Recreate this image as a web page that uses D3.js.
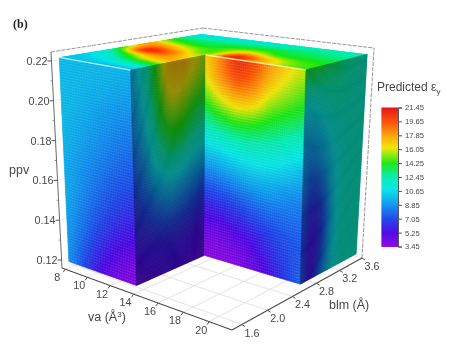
<!DOCTYPE html>
<html>
<head>
<meta charset="utf-8">
<script src="https://d3js.org/d3.v7.min.js"></script>
<style>
  body { margin: 0; background: #fff; }
  svg { display: block; filter: blur(0.7px); font-family: "Liberation Sans", Arial, sans-serif; }
  text { fill: #484848; }
</style>
</head>
<body>
<div id="chart"></div>
<script>
// tick labels
var vaTicks = [8, 10, 12, 14, 16, 18, 20];
var blmTicks = [1.6, 2.0, 2.4, 2.8, 3.2, 3.6];
var ppvTicks = [0.12, 0.14, 0.16, 0.18, 0.20, 0.22];
var legendTicks = [21.45, 19.65, 17.85, 16.05, 14.25, 12.45, 10.65, 8.85, 7.05, 5.25, 3.45];

// colour bar, value -> colour
var colorValues = [3.45, 5.25, 7.05, 8.85, 10.95, 12.45, 14.25, 16.3, 17.85, 19.65, 21.45];
var colorHexes = ["#9000e0", "#4a00e6", "#1a40ea", "#0a90f0", "#00e6e8", "#00ecb0", "#14e810", "#f2e600", "#ffa000", "#ff4a00", "#e01010"];

// extent of the solid inside the frame, the cut runs at the middle values
var solidVa = [7.85, 13.8, 21.45];
var solidBlm = [1.53, 2.58, 3.55];
var solidPpv = [0.1185, 0.2215];

var leftFace = [
  [9.9, 9.9, 9.8, 9.8, 9.7],
  [9.9, 9.8, 9.7, 9.5, 9.3],
  [9.9, 9.7, 9.4, 9.1, 8.9],
  [9.8, 9.5, 9.1, 8.7, 8.4],
  [9.7, 9.3, 8.8, 8.3, 7.9],
  [9.6, 9.0, 8.4, 7.8, 7.4],
  [9.5, 8.8, 8.0, 7.3, 6.8],
  [9.4, 8.5, 7.5, 6.7, 6.1],
  [9.2, 8.1, 6.9, 5.9, 5.3],
  [9.0, 7.6, 6.1, 5.0, 4.4],
  [8.8, 7.1, 5.3, 4.2, 3.8]
];
var cutFaceBlm = [
  [9.7, 11.8, 14.5, 17.0, 17.3, 16.5, 15.6],
  [9.4, 11.5, 14.2, 16.5, 16.6, 15.8, 15.0],
  [9.0, 11.0, 13.6, 15.6, 15.6, 14.7, 14.1],
  [8.6, 10.4, 12.9, 14.5, 14.4, 13.5, 12.9],
  [8.1, 9.7, 12.0, 13.3, 13.1, 12.2, 11.6],
  [7.5, 8.9, 10.8, 11.8, 11.4, 10.5, 9.8],
  [7.0, 7.9, 9.3, 10.0, 9.6, 8.8, 8.1],
  [6.4, 7.0, 7.8, 8.3, 7.9, 7.2, 6.7],
  [5.9, 6.2, 6.5, 6.7, 6.5, 6.1, 5.8],
  [5.3, 5.6, 5.7, 5.8, 5.7, 5.4, 5.2],
  [4.8, 5.1, 5.4, 5.5, 5.3, 5.0, 4.8]
];
var cutFaceVa = [
  [16.8, 18.6, 20.5, 19.8, 18.0, 16.7, 15.8],
  [16.4, 18.1, 19.5, 18.8, 17.0, 15.8, 15.0],
  [15.0, 16.3, 17.2, 16.8, 15.4, 14.6, 14.0],
  [13.2, 14.0, 14.6, 14.4, 13.7, 13.1, 12.6],
  [11.5, 11.9, 12.3, 12.4, 12.1, 11.6, 11.1],
  [9.8, 10.1, 10.5, 10.8, 10.7, 10.3, 9.8],
  [8.2, 8.4, 8.8, 9.2, 9.3, 9.0, 8.7],
  [6.6, 6.8, 7.2, 7.7, 8.0, 8.1, 8.1],
  [5.3, 5.4, 5.8, 6.3, 6.9, 7.4, 7.6],
  [4.3, 4.3, 4.6, 5.1, 6.0, 6.9, 7.5],
  [3.7, 3.7, 3.9, 4.4, 5.3, 6.6, 7.7]
];
var rightFace = [
  [14.0, 13.8, 13.5, 13.2, 12.8, 12.4, 12.0],
  [12.5, 12.4, 12.5, 12.6, 12.4, 12.1, 11.9],
  [10.8, 10.9, 11.5, 12.0, 12.0, 11.9, 11.9],
  [9.8, 9.9, 10.6, 11.5, 11.8, 11.9, 11.9],
  [9.2, 9.1, 9.8, 11.0, 11.6, 11.9, 11.9],
  [8.8, 8.1, 8.9, 10.5, 11.6, 11.9, 11.9],
  [8.3, 7.1, 7.8, 10.1, 11.6, 11.9, 11.9],
  [7.6, 6.3, 7.0, 9.8, 11.6, 11.9, 11.9],
  [7.3, 5.8, 6.8, 9.8, 11.6, 11.9, 11.9],
  [7.3, 5.6, 7.2, 10.1, 11.6, 11.9, 11.9],
  [7.6, 5.8, 8.0, 10.4, 11.6, 11.9, 11.9]
];
// top face, rows go from the lowest blm to the highest, columns along va
// (the part of this grid that falls in the cut is never seen)
var topFace = [
  [10.0, 10.0, 9.9, 9.9, 11.0, 11.0, 11.0, 11.0],
  [10.4, 11.2, 12.4, 13.2, 14.0, 13.5, 12.8, 12.0],
  [11.2, 14.0, 16.6, 17.2, 17.0, 15.5, 14.2, 13.5],
  [14.5, 20.2, 19.0, 16.5, 19.0, 16.5, 15.0, 14.2],
  [17.8, 18.0, 16.3, 15.0, 20.5, 18.0, 15.6, 14.5],
  [15.5, 14.5, 14.0, 14.8, 16.0, 14.6, 14.2, 14.0],
  [12.5, 12.6, 12.8, 13.0, 13.3, 13.2, 13.0, 12.8],
  [11.0, 11.0, 11.0, 11.2, 11.8, 12.2, 12.3, 12.0]
];

var width = 465, height = 356;

var svg = d3.select("#chart").append("svg").attr("width", width).attr("height", height);

// frame of the 3d box on the page
var floorA = [62, 268], floorB = [232, 330], floorC = [362, 258], floorD = [197, 216];
var topA = [51, 52], topB = [231, 84], topC = [374, 48], topD = [203, 28];

var vaScale = d3.scaleLinear().domain([7.7, 21.7]).range([0, 1]);
var blmScale = d3.scaleLinear().domain([1.45, 3.6]).range([0, 1]);
var ppvScale = d3.scaleLinear().domain([0.116, 0.2245]).range([0, 1]);

var colorScale = d3.scaleLinear().domain(colorValues).range(colorHexes).clamp(true);

// foreshortening along an edge
function persp(t, r) {
  return t * r / (1 + (r - 1) * t);
}
function mix(a, b, t) {
  return [a[0] + (b[0] - a[0]) * t, a[1] + (b[1] - a[1]) * t];
}
function project(va, blm, ppv) {
  var u = persp(vaScale(va), 0.89),
    v = persp(blmScale(blm), 1.1),
    w = ppvScale(ppv);
  var floor = mix(mix(floorA, floorB, u), mix(floorD, floorC, u), v);
  var roof = mix(mix(topA, topB, u), mix(topD, topC, u), v);
  return mix(floor, roof, w);
}

var line = d3.line();

function segment(parent, a, b, color, w, dash) {
  parent.append("path")
    .attr("d", line([a, b]))
    .attr("fill", "none")
    .attr("stroke", color)
    .attr("stroke-width", w)
    .attr("stroke-dasharray", dash || null);
}

// smooth value inside a grid, passes through the values that were read
function catmull(arr, t) {
  var n = arr.length - 1,
    i = Math.min(Math.floor(t * n), n - 1),
    f = t * n - i,
    p0 = arr[Math.max(i - 1, 0)],
    p1 = arr[i],
    p2 = arr[i + 1],
    p3 = arr[Math.min(i + 2, n)];
  return 0.5 * (2 * p1 + (p2 - p0) * f + (2 * p0 - 5 * p1 + 4 * p2 - p3) * f * f + (3 * p1 - p0 - 3 * p2 + p3) * f * f * f);
}
function gridValue(grid, s, t) {
  return catmull(grid.map(function (row) { return catmull(row, s); }), t);
}

// draw one face as small quads, pointAt takes s (across) and t (along the rows)
function drawFace(parent, grid, pointAt, shade, nx, ny) {
  var cells = d3.cross(d3.range(nx), d3.range(ny));
  parent.selectAll("path")
    .data(cells)
    .join("path")
    .attr("d", function (d) {
      var s0 = d[0] / nx, s1 = (d[0] + 1) / nx, t0 = d[1] / ny, t1 = (d[1] + 1) / ny;
      return line([pointAt(s0, t0), pointAt(s1, t0), pointAt(s1, t1), pointAt(s0, t1)]) + "Z";
    })
    .each(function (d) {
      var c = d3.rgb(colorScale(gridValue(grid, (d[0] + 0.5) / nx, (d[1] + 0.5) / ny)));
      var col = d3.rgb(c.r * shade, c.g * shade, c.b * shade).formatHex();
      d3.select(this).attr("fill", col).attr("stroke", col).attr("stroke-width", 0.6);
    });
}

// walls and floor grid, behind the solid
var grid = svg.append("g");
vaTicks.forEach(function (v) {
  segment(grid, project(v, 1.45, 0.116), project(v, 3.6, 0.116), "#dcdcdc", 0.8);
  segment(grid, project(v, 3.6, 0.116), project(v, 3.6, 0.2245), "#e4e4e4", 0.7);
});
blmTicks.forEach(function (b) {
  segment(grid, project(7.7, b, 0.116), project(21.7, b, 0.116), "#dcdcdc", 0.8);
  segment(grid, project(7.7, b, 0.116), project(7.7, b, 0.2245), "#e4e4e4", 0.7);
});
ppvTicks.forEach(function (p) {
  segment(grid, project(7.7, 1.45, p), project(7.7, 3.6, p), "#e4e4e4", 0.7);
  segment(grid, project(7.7, 3.6, p), project(21.7, 3.6, p), "#e4e4e4", 0.7);
});

// frame lines
var frame = svg.append("g");
segment(frame, topA, topD, "#8a8a8a", 0.9, "4,1.2");
segment(frame, topD, topC, "#8a8a8a", 0.9, "4,1.2");
segment(frame, floorC, topC, "#8a8a8a", 0.9, "4,1.2");
segment(frame, floorA, topA, "#6a6a6a", 1);
segment(frame, floorA, floorB, "#4a4a4a", 1.1);
segment(frame, floorB, floorC, "#4a4a4a", 1.1);

// the solid
var va0 = solidVa[0], vaCut = solidVa[1], va1 = solidVa[2];
var blm0 = solidBlm[0], blmCut = solidBlm[1], blm1 = solidBlm[2];
var ppv0 = solidPpv[0], ppv1 = solidPpv[1];
var ppvDown = d3.scaleLinear().domain([0, 1]).range([ppv1, ppv0]);

var clipTop = [
  project(va0, blm0, ppv1), project(vaCut, blm0, ppv1), project(vaCut, blmCut, ppv1),
  project(va1, blmCut, ppv1), project(va1, blm1, ppv1), project(va0, blm1, ppv1)
];
svg.append("clipPath").attr("id", "top-clip").append("path").attr("d", line(clipTop) + "Z");

var topG = svg.append("g").attr("clip-path", "url(#top-clip)");
var topVa = d3.scaleLinear().domain([0, 1]).range([va0, va1]);
var topBlm = d3.scaleLinear().domain([0, 1]).range([blm0, blm1]);
drawFace(topG, topFace, function (s, t) {
  return project(topVa(s), topBlm(t), ppv1);
}, 1, 80, 60);

var leftVa = d3.scaleLinear().domain([0, 1]).range([va0, vaCut]);
drawFace(svg.append("g"), leftFace, function (s, t) {
  return project(leftVa(s), blm0, ppvDown(t));
}, 0.97, 40, 70);

var cutBlm = d3.scaleLinear().domain([0, 1]).range([blm0, blmCut]);
drawFace(svg.append("g"), cutFaceBlm, function (s, t) {
  return project(vaCut, cutBlm(s), ppvDown(t));
}, 0.6, 70, 80);

var cutVa = d3.scaleLinear().domain([0, 1]).range([vaCut, va1]);
drawFace(svg.append("g"), cutFaceVa, function (s, t) {
  return project(cutVa(s), blmCut, ppvDown(t));
}, 0.98, 50, 70);

var rightBlm = d3.scaleLinear().domain([0, 1]).range([blmCut, blm1]);
drawFace(svg.append("g"), rightFace, function (s, t) {
  return project(va1, rightBlm(s), ppvDown(t));
}, 0.6, 60, 80);

// fine rows of points show up as pale stripes on the lit faces
var stripes = svg.append("g");
d3.range(0, 76).forEach(function (i) {
  var p = ppv0 + (ppv1 - ppv0) * i / 75;
  segment(stripes, project(va0, blm0, p), project(vaCut, blm0, p), "rgba(255,255,255,0.10)", 0.9);
  segment(stripes, project(vaCut, blmCut, p), project(va1, blmCut, p), "rgba(255,255,255,0.10)", 0.9);
});

// bright top edges
segment(stripes, project(va0, blm0, ppv1), project(vaCut, blm0, ppv1), "rgba(200,255,255,0.85)", 1.3);
segment(stripes, project(vaCut, blmCut, ppv1), project(va1, blmCut, ppv1), "rgba(255,255,190,0.8)", 1.3);

// axes
var axes = svg.append("g").attr("font-size", 10.8);

ppvTicks.forEach(function (p) {
  var a = project(7.7, 1.45, p);
  segment(axes, a, [a[0] - 4, a[1]], "#555", 1);
  axes.append("text").attr("x", a[0] - 4).attr("y", a[1] + 4).attr("text-anchor", "end").text(p.toFixed(2));
});
d3.range(0.13, 0.22, 0.02).forEach(function (p) {
  var a = project(7.7, 1.45, p);
  segment(axes, a, [a[0] - 2, a[1]], "#777", 0.8);
});

vaTicks.forEach(function (v) {
  var a = project(v, 1.45, 0.116);
  segment(axes, a, [a[0] - 2, a[1] + 3], "#555", 1);
  axes.append("text").attr("x", a[0] - 8).attr("y", a[1] + 12).attr("text-anchor", "middle").text(v);
});
blmTicks.forEach(function (b) {
  var a = project(21.7, b, 0.116);
  segment(axes, a, [a[0] + 3, a[1] + 2], "#555", 1);
  axes.append("text").attr("x", a[0] + 10).attr("y", a[1] + 12).attr("text-anchor", "middle").text(b.toFixed(1));
});

var titles = svg.append("g").attr("font-size", 12.5);
titles.append("text").attr("x", 9).attr("y", 174).text("ppv");
var vaTitle = titles.append("text").attr("x", 88).attr("y", 321);
vaTitle.append("tspan").text("va (Å");
vaTitle.append("tspan").attr("font-size", 8).attr("dy", -4).text("3");
vaTitle.append("tspan").attr("dy", 4).text(")");
titles.append("text").attr("x", 329).attr("y", 309).text("blm (Å)");

svg.append("text")
  .attr("x", 13).attr("y", 28)
  .attr("font-family", "'Liberation Serif', serif")
  .attr("font-weight", "bold")
  .attr("font-size", 12)
  .style("fill", "#222")
  .text("(b)");

// legend
var legendScale = d3.scaleLinear().domain([3.45, 21.45]).range([246.5, 107.5]);
var legend = svg.append("g");
d3.range(0, 140).forEach(function (i) {
  var v = legendScale.invert(107.5 + i);
  legend.append("rect")
    .attr("x", 381.5).attr("y", 107.5 + i)
    .attr("width", 16.5).attr("height", i < 139 ? 1.4 : 0.5)
    .attr("fill", colorScale(v));
});
var legendAxis = d3.axisRight(legendScale)
  .tickValues(legendTicks)
  .tickFormat(d3.format(".2f"))
  .tickSize(4)
  .tickPadding(3);
var legendG = legend.append("g")
  .attr("transform", "translate(398,0)")
  .call(legendAxis);
legendG.selectAll("text").attr("font-size", 7.6).attr("font-family", "'Liberation Sans', sans-serif");
legendG.selectAll("line").attr("stroke", "#555");
legendG.select(".domain").attr("stroke", "#555");

var legendTitle = svg.append("text").attr("x", 377).attr("y", 91).attr("font-size", 12);
legendTitle.append("tspan").text("Predicted ε");
legendTitle.append("tspan").attr("font-size", 8).attr("dy", 3).text("y");
</script>
</body>
</html>
